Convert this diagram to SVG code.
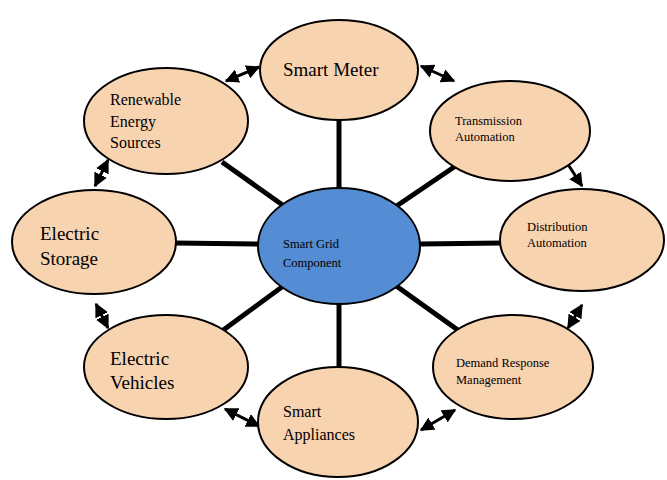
<svg xmlns="http://www.w3.org/2000/svg" width="667" height="480" viewBox="0 0 667 480">
  <style>
    .outer { fill: #f8d3b0; stroke: #000; stroke-width: 2; }
    .hub { fill: #548dd4; stroke: #000; stroke-width: 2; }
    .spoke { stroke: #000; stroke-width: 5; fill: none; }
    .link { stroke: #000; stroke-width: 3; fill: none; marker-start: url(#head); marker-end: url(#head); }
    text { font-family: "Liberation Serif", "Times New Roman", serif; fill: #000; }
    .big { font-size: 19px; }
    .mid { font-size: 16px; }
    .small { font-size: 12.5px; }
  </style>
  <defs>
    <marker id="head" viewBox="0 0 10 10" refX="9" refY="5" markerWidth="14" markerHeight="14" orient="auto-start-reverse" markerUnits="userSpaceOnUse">
      <path d="M0,0 L10,5 L0,10 z" fill="#000"/>
    </marker>
  </defs>

  <!-- spokes from the hub to every component -->
  <g id="connectors">
    <line class="spoke" x1="339" y1="245" x2="339" y2="118"/>
    <line class="spoke" x1="339" y1="245" x2="460" y2="163"/>
    <line class="spoke" x1="339" y1="245" x2="502" y2="243"/>
    <line class="spoke" x1="339" y1="245" x2="462" y2="333"/>
    <line class="spoke" x1="339" y1="245" x2="339" y2="368"/>
    <line class="spoke" x1="339" y1="245" x2="222" y2="331"/>
    <line class="spoke" x1="339" y1="245" x2="174" y2="243"/>
    <line class="spoke" x1="339" y1="245" x2="222" y2="162"/>
    <!-- two-way links between neighbours -->
    <line class="link" x1="226" y1="81" x2="259" y2="67"/>
    <line class="link" x1="421" y1="66" x2="454" y2="81"/>
    <line class="link" x1="560" y1="152" x2="582" y2="186"/>
    <line class="link" x1="582" y1="305" x2="568" y2="328"/>
    <line class="link" x1="455" y1="410" x2="421" y2="430"/>
    <line class="link" x1="259" y1="426" x2="225" y2="409"/>
    <line class="link" x1="96" y1="304" x2="108" y2="328"/>
    <line class="link" x1="108" y1="160" x2="95" y2="186"/>
  </g>

  <g id="smart-meter">
    <ellipse class="outer" cx="339" cy="70" rx="79" ry="50"/>
    <text class="big" x="283" y="76">Smart Meter</text>
  </g>
  <g id="transmission-automation">
    <ellipse class="outer" cx="510" cy="131" rx="80" ry="50"/>
    <text class="small" x="455" y="125">Transmission</text>
    <text class="small" x="455" y="141">Automation</text>
  </g>
  <g id="distribution-automation">
    <ellipse class="outer" cx="582" cy="240" rx="82" ry="51"/>
    <text class="small" x="527" y="231">Distribution</text>
    <text class="small" x="527" y="247">Automation</text>
  </g>
  <g id="demand-response">
    <ellipse class="outer" cx="513" cy="367" rx="80" ry="52"/>
    <text class="small" x="456" y="367">Demand Response</text>
    <text class="small" x="456" y="384">Management</text>
  </g>
  <g id="smart-appliances">
    <ellipse class="outer" cx="338" cy="422" rx="80" ry="55"/>
    <text class="mid" x="283" y="417">Smart</text>
    <text class="mid" x="283" y="440">Appliances</text>
  </g>
  <g id="electric-vehicles">
    <ellipse class="outer" cx="166" cy="367" rx="82" ry="52"/>
    <text class="big" x="110" y="365">Electric</text>
    <text class="big" x="110" y="389">Vehicles</text>
  </g>
  <g id="electric-storage">
    <ellipse class="outer" cx="94" cy="242" rx="82" ry="52"/>
    <text class="big" x="40" y="240">Electric</text>
    <text class="big" x="40" y="265">Storage</text>
  </g>
  <g id="renewable-energy">
    <ellipse class="outer" cx="166" cy="121" rx="82" ry="53"/>
    <text class="mid" x="110" y="105">Renewable</text>
    <text class="mid" x="110" y="127">Energy</text>
    <text class="mid" x="110" y="148">Sources</text>
  </g>
  <g id="smart-grid-component">
    <ellipse class="hub" cx="339" cy="246" rx="81" ry="58"/>
    <text class="small" x="283" y="248">Smart Grid</text>
    <text class="small" x="283" y="267">Component</text>
  </g>
</svg>
